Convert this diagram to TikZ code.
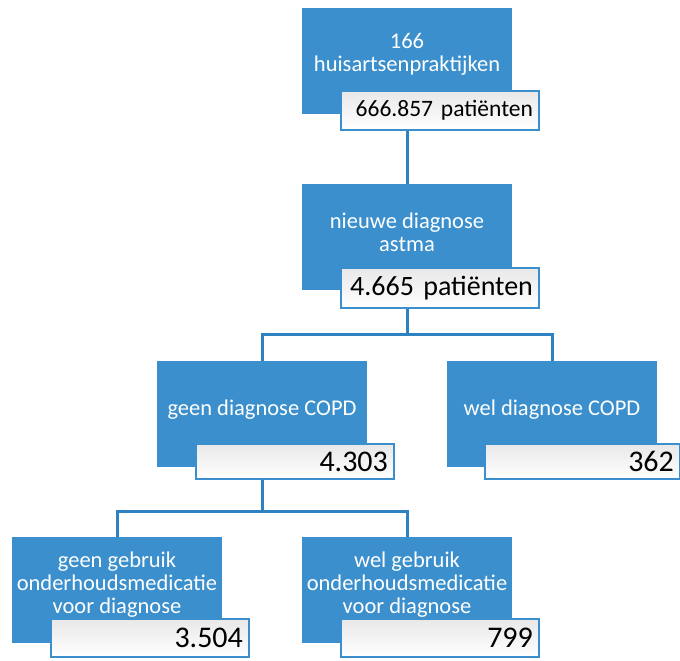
\documentclass[tikz,border=0pt]{standalone}
\usepackage{fontspec}
\setmainfont{Carlito}
\usetikzlibrary{calc}
\definecolor{boxblue}{HTML}{3A8FCC}
\definecolor{lineblue}{HTML}{2F82C2}

\begin{document}
\begin{tikzpicture}[x=1pt, y=-1pt,
    blok/.style={fill=boxblue, minimum width=210pt, minimum height=106pt, inner sep=0pt, anchor=north west},
    tekst/.style={text=white, align=center, font=\fontsize{22.5}{23}\selectfont, inner sep=0pt},
    getal/.style={draw=boxblue, line width=1.8pt, top color=black!9, bottom color=white,
        minimum width=198pt, minimum height=38pt, text width=186pt, inner xsep=6pt, inner ysep=0pt,
        align=right, anchor=north west, font=\fontsize{30}{30}\selectfont},
    verbinding/.style={draw=lineblue, line width=3pt},
]
    \useasboundingbox (0,0) rectangle (680,661);

    % praktijken
    \node[blok] (prakt) at (302,8) {};
    \node[tekst] (prakt-t) at (407,54) {166\\huisartsenpraktijken};
    \node[getal, minimum height=39pt, font=\fontsize{23.5}{24}\selectfont] (prakt-n) at (340,90) {666.857 pati\"enten};

    % astma
    \node[blok] (astma) at (302,184) {};
    \node[tekst] (astma-t) at (407,232) {nieuwe diagnose\\astma};
    \node[getal, minimum height=40pt, font=\fontsize{28}{28}\selectfont] (astma-n) at (340,267) {4.665 pati\"enten};

    % COPD
    \node[blok] (geen) at (157,361) {};
    \node[tekst] (geen-t) at (262,410) {geen diagnose COPD};
    \node[getal, minimum height=35pt] (geen-n) at (195,443) {4.303};

    \node[blok] (wel) at (447,361) {};
    \node[tekst] (wel-t) at (552,410) {wel diagnose COPD};
    \node[getal, minimum height=35pt, minimum width=195pt, text width=183pt] (wel-n) at (484,443) {362};

    % medicatie
    \node[blok] (geenmed) at (12,537) {};
    \node[tekst] (geenmed-t) at (117,585) {geen gebruik\\onderhoudsmedicatie\\voor diagnose};
    \node[getal] (geenmed-n) at (50,618) {3.504};

    \node[blok] (welmed) at (302,537) {};
    \node[tekst] (welmed-t) at (407,585) {wel gebruik\\onderhoudsmedicatie\\voor diagnose};
    \node[getal] (welmed-n) at (340,618) {799};

    % lijnen
    \draw[verbinding] (prakt.center |- prakt-n.south) -- (astma.north);

    \coordinate (splitsA) at ($(astma.center |- astma-n.south)+(0,26)$);
    \draw[verbinding] (astma.center |- astma-n.south) -- (splitsA) -| (geen.north);
    \draw[verbinding] (splitsA) -| (wel.north);

    \coordinate (splitsB) at ($(geen.center |- geen-n.south)+(0,32)$);
    \draw[verbinding] (geen.center |- geen-n.south) -- (splitsB) -| (geenmed.north);
    \draw[verbinding] (splitsB) -| (welmed.north);
\end{tikzpicture}
\end{document}
